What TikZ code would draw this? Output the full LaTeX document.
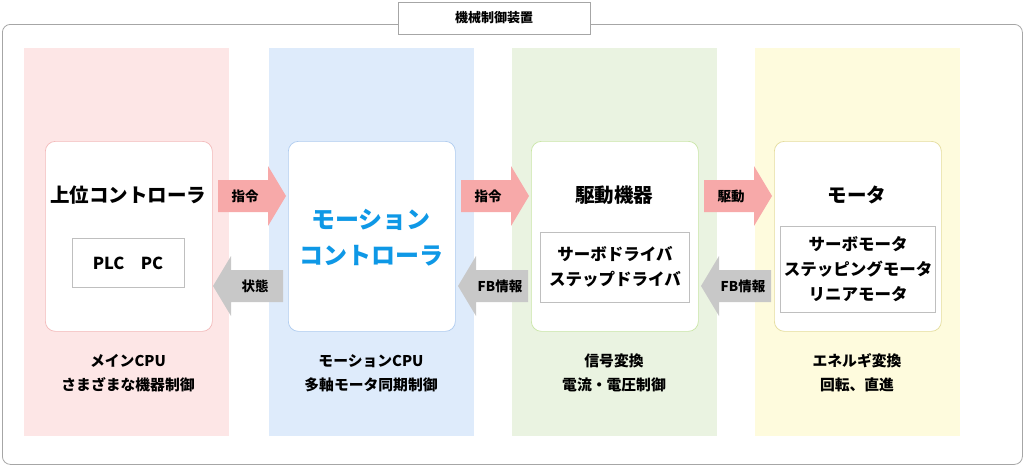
\documentclass[tikz,border=0pt]{standalone}
\usepackage{fontspec}
\setmainfont{Noto Sans CJK JP}
\begin{document}
\begin{tikzpicture}[x=1pt,y=-1pt,
  bgcol/.style={draw=none,minimum width=205pt,minimum height=388pt,anchor=north west},
  wbox/.style={draw=#1,fill=white,rounded corners=10pt,line width=0.7pt,minimum width=167pt,minimum height=190pt,anchor=north west},
  sbox/.style={draw=gray!50,fill=white,line width=0.6pt,anchor=center,align=center,font=\fontsize{16.5}{25}\selectfont\bfseries},
  ttl/.style={font=\fontsize{19.5}{24}\selectfont\bfseries},
  note/.style={align=center,font=\fontsize{14.8}{24}\selectfont\bfseries},
  albl/.style={font=\fontsize{13.5}{16}\selectfont\bfseries}]
\useasboundingbox (0,0) rectangle (1024,466);
\definecolor{pbg}{HTML}{FDE6E6}\definecolor{bbg}{HTML}{DEEBFB}
\definecolor{gbg}{HTML}{EAF3E1}\definecolor{ybg}{HTML}{FEFBDD}
\definecolor{pbd}{HTML}{F3B9B9}\definecolor{bbd}{HTML}{AECBEF}
\definecolor{gbd}{HTML}{C9E6A6}\definecolor{ybd}{HTML}{E4DC9C}
\definecolor{parr}{HTML}{F7A9A9}\definecolor{garr}{HTML}{C8C8C8}
\definecolor{mblue}{HTML}{0E98E6}
\node[draw=gray!70,rounded corners=8pt,line width=0.8pt,minimum width=1020pt,minimum height=440pt,anchor=north west] (outer) at (2,24) {};
\node[draw=gray!70,fill=white,line width=0.8pt,minimum width=192pt,minimum height=32pt,font=\fontsize{13}{16}\selectfont\bfseries] (title) at (494,18) {機械制御装置};
\node[bgcol,fill=pbg] (c1) at (24,48) {};
\node[bgcol,fill=bbg] (c2) at (269,48) {};
\node[bgcol,fill=gbg] (c3) at (512,48) {};
\node[bgcol,fill=ybg] (c4) at (755,48) {};
\node[wbox=pbd] (b1) at (45,141) {};
\node[wbox=bbd] (b2) at (288,141) {};
\node[wbox=gbd] (b3) at (531,141) {};
\node[wbox=ybd] (b4) at (774,141) {};
\node[ttl] (t1) at (128,195) {上位コントローラ};
\node[sbox,minimum width=112pt,minimum height=49pt] (s1) at (128,263) {PLC\quad PC};
\node[align=center,text=mblue,font=\fontsize{24}{36}\selectfont\bfseries] (t2) at (371,238) {モーション\\コントローラ};
\node[ttl] (t3) at (614,195) {駆動機器};
\node[sbox,minimum width=149pt,minimum height=70pt] (s3) at (615,267) {サーボドライバ\\ステップドライバ};
\node[ttl] (t4) at (857,195) {モータ};
\node[sbox,minimum width=150pt,minimum height=86pt] (s4) at (858,269) {サーボモータ\\ステッピングモータ\\リニアモータ};
\node[note] (n1) at (128,373) {メインCPU\\さまざまな機器制御};
\node[note] (n2) at (371,373) {モーションCPU\\多軸モータ同期制御};
\node[note] (n3) at (614,373) {信号変換\\電流・電圧制御};
\node[note] (n4) at (857,373) {エネルギ変換\\回転、直進};
\foreach \x/\lab/\nm in {218/指令/r1,461/指令/r2,704/駆動/r3}{
  \fill[parr] (\x,180) -- (\x+50,180) -- (\x+50,166) -- (\x+68,196) -- (\x+50,226) -- (\x+50,212) -- (\x,212) -- cycle;
  \node[albl] (\nm) at (\x+27,196) {\lab};}
\foreach \x/\lab/\nm in {213/状態/l1,458/FB情報/l2,701/FB情報/l3}{
  \fill[garr] (\x,286) -- (\x+18,256) -- (\x+18,270) -- (\x+70,270) -- (\x+70,302) -- (\x+18,302) -- (\x+18,316) -- cycle;
  \node[albl] (\nm) at (\x+42,286) {\lab};}
\end{tikzpicture}
\end{document}
